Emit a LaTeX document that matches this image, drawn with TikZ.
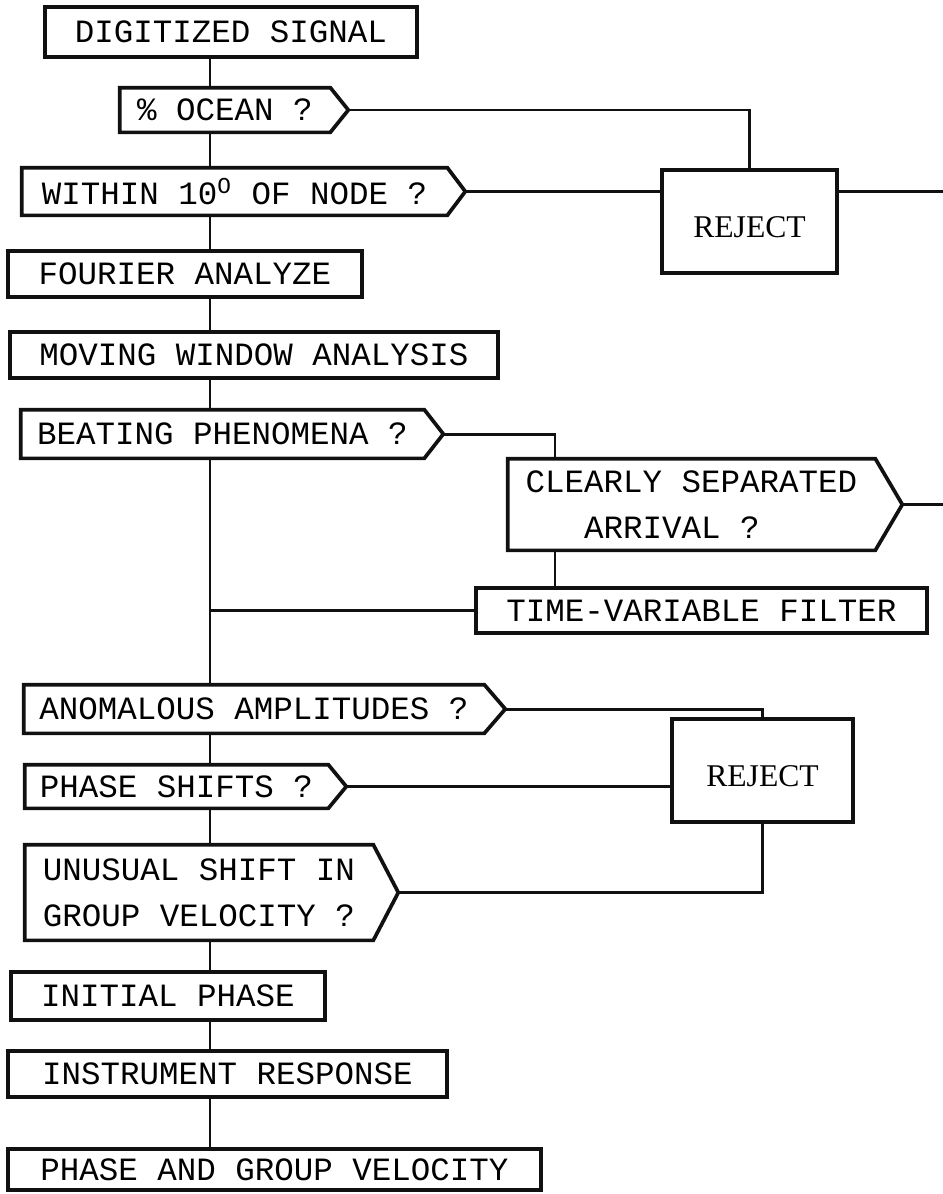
\documentclass[tikz,border=0pt]{standalone}
\usepackage{fontspec}
\setmonofont{Liberation Mono}
\newfontfamily\rejectfont{Liberation Serif}
\usepackage{xcolor}
\usepackage{tikz}
\usetikzlibrary{positioning, calc}
\definecolor{fcInk}{HTML}{111111}
\tikzset{
  procbox/.style={
    rectangle, draw=fcInk, line width=2.1pt,
    inner sep=0pt, align=center,
    font=\ttfamily\fontsize{18.5}{26}\selectfont
  },
  querybox/.style={
    rectangle, draw=none,
    inner sep=0pt, align=left,
    font=\ttfamily\fontsize{18.5}{26}\selectfont
  },
  rejectbox/.style={
    rectangle, draw=fcInk, line width=2.1pt,
    inner sep=0pt, align=center, text height=0.62cm, text depth=0cm,
    font=\rejectfont\fontsize{18}{20}\selectfont
  },
  outline/.style={draw=fcInk, line width=2.1pt, line join=miter},
  link/.style={draw=fcInk, line width=1.7pt}
}

\begin{document}
\begin{tikzpicture}[x=0.02cm, y=-0.02cm]
  \useasboundingbox (0,0) rectangle (943,1194);

  % main column
  \node[procbox, minimum width=7.44cm, minimum height=1.0cm] (sig) at (231,32) {DIGITIZED SIGNAL};
  \node[querybox, minimum width=4.2cm, minimum height=0.88cm] (ocean) at (225,110) {\% OCEAN ?};
  \node[querybox, minimum width=8.5cm, minimum height=0.94cm] (within) at (234.5,191.5) {WITHIN 10\textsuperscript{O} OF NODE ?};
  \node[procbox, minimum width=7.08cm, minimum height=0.92cm] (fourier) at (185,274) {FOURIER ANALYZE};
  \node[procbox, minimum width=9.76cm, minimum height=0.92cm] (moving) at (254,355) {MOVING WINDOW ANALYSIS};
  \node[querybox, minimum width=8.06cm, minimum height=0.96cm] (beat) at (222.5,434) {BEATING PHENOMENA ?};
  \node[querybox, minimum width=9.2cm, minimum height=0.96cm] (anom) at (254,709) {ANOMALOUS AMPLITUDES ?};
  \node[querybox, minimum width=6.06cm, minimum height=0.86cm] (phs) at (176.5,786.5) {PHASE SHIFTS ?};
  \node[querybox, minimum width=6.96cm, minimum height=1.9cm] (unus) at (199,892.5) {UNUSUAL SHIFT IN\\GROUP VELOCITY ?};
  \node[procbox, minimum width=6.28cm, minimum height=0.96cm] (init) at (168,996) {INITIAL PHASE};
  \node[procbox, minimum width=8.78cm, minimum height=0.92cm] (instr) at (227.5,1074) {INSTRUMENT RESPONSE};
  \node[procbox, minimum width=10.66cm, minimum height=0.82cm] (pgv) at (274.5,1169.5) {PHASE AND GROUP VELOCITY};

  % side branches
  \node[rejectbox, minimum width=3.5cm, minimum height=2.06cm] (rej1) at (749.5,221.5) {REJECT};
  \node[querybox, minimum width=7.34cm, minimum height=1.82cm] (clear) at (691.5,504.5) {CLEARLY SEPARATED\\\phantom{ARR}ARRIVAL ?};
  \node[procbox, minimum width=9.02cm, minimum height=0.9cm] (tvf) at (701.5,610.5) {TIME-VARIABLE FILTER};
  \node[rejectbox, minimum width=3.62cm, minimum height=2.06cm] (rej2) at (762.5,770.5) {REJECT};

  \coordinate (trunk) at (210,0);
  \coordinate (split) at (555,0);
  \coordinate (edge) at (943,0);

  % pointed outlines of the questions
  \foreach \n/\t in {ocean/18, within/18, beat/19, clear/27, anom/21, phs/18, unus/25}
    \draw[outline] (\n.north west) -- (\n.north east) -- ([shift={(\t,0)}]\n.east) coordinate (\n-tip)
      -- (\n.south east) -- (\n.south west) -- cycle;

  % trunk
  \foreach \a/\b in {sig/ocean, ocean/within, within/fourier, fourier/moving, moving/beat,
                     beat/anom, anom/phs, phs/unus, unus/init, init/instr, instr/pgv}
    \draw[link] (\a.south -| trunk) -- (\b.north -| trunk);

  \draw[link] (ocean-tip) -| (rej1.north);
  \draw[link] (within-tip) -- (within-tip -| rej1.west);
  \draw[link] (rej1.east |- within-tip) -- (within-tip -| edge);
  \draw[link] (beat-tip) -| (clear.north -| split);
  \draw[link] (clear.south -| split) -- (tvf.north -| split);
  \draw[link] (clear-tip) -- (clear-tip -| edge);
  \draw[link] (tvf.west -| trunk) -- (tvf.west);
  \draw[link] (anom-tip) -| (rej2.north);
  \draw[link] (phs-tip) -- (phs-tip -| rej2.west);
  \draw[link] (rej2.south) |- (unus-tip);
\end{tikzpicture}
\end{document}
